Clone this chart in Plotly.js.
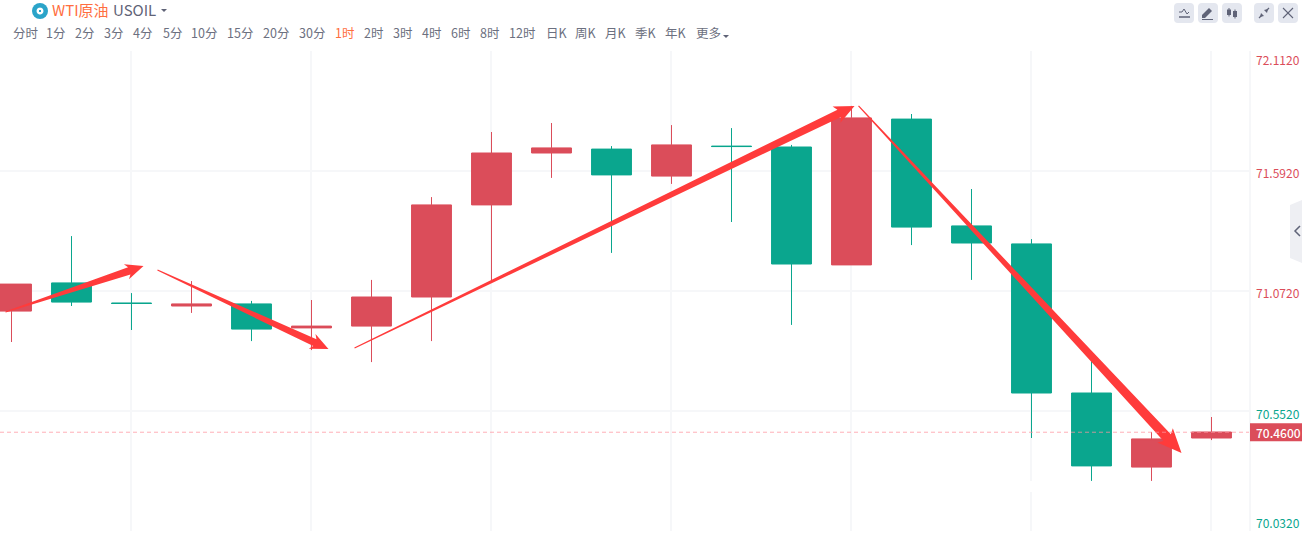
<!DOCTYPE html>
<html><head><meta charset="utf-8">
<script src="https://cdn.plot.ly/plotly-3.0.1.min.js"></script>
<style>html,body{margin:0;padding:0;background:#fff;overflow:hidden}#c{width:1302px;height:552px}</style>
</head><body><div id="c"></div>
<script>
// ---- data ----
const candleIndex = [0,1,2,3,4,5,6,7,8,9,10,11,12,13,14,15,16,17,18,19,20];
const opens  = [70.985,71.107,71.020,71.007,71.016,70.912,70.920,71.046,71.445,71.670,71.687,71.570,71.700,71.696,71.185,71.817,71.354,71.276,70.630,70.309,70.435];
const highs  = [71.102,71.310,71.063,71.115,71.029,71.033,71.120,71.479,71.761,71.800,71.700,71.791,71.778,71.705,71.874,71.839,71.514,71.297,70.812,70.461,70.526];
const lows   = [70.851,71.007,70.903,70.977,70.855,70.816,70.764,70.855,71.111,71.562,71.237,71.536,71.371,70.925,71.185,71.271,71.120,70.435,70.249,70.249,70.426];
const closes = [71.102,71.024,71.018,71.016,70.907,70.920,71.046,71.445,71.670,71.692,71.575,71.705,71.698,71.189,71.822,71.349,71.280,70.630,70.314,70.431,70.461];
const priceTicks = [72.112,71.592,71.072,70.552,70.032];
const priceLabels = ['72.1120','71.5920','71.0720','70.5520','70.0320'];
const timeGrid = [2,5,8,11,14,17,20];
const lastPrice = 70.46;
const lastPriceLabel = '70.4600';
const arrowTailX = [-0.1,2.433,5.717,14.117];
const arrowTailY = [70.981,71.163,70.825,71.874];
const arrowTipX  = [2.2,5.283,14.05,19.5];
const arrowTipY  = [71.180,70.821,71.874,70.370];
const periods = ['分时','1分','2分','3分','4分','5分','10分','15分','20分','30分','1时','2时','3时','4时','6时','8时','12时','日K','周K','月K','季K','年K','更多'];
const activePeriod = '1时';
const titleCn = 'WTI原油';
const titleCode = 'USOIL';

// ---- layout constants ----
const RED='#db4d5a', GREEN='#0aa68e', ARROW='#ff3b3b', GRID='#f6f7f9', TXT='#6c7080';
const W=1302,H=552,L=0,R=1249,T=51,B=531;
const CJK='"Noto Sans CJK SC","Noto Sans",sans-serif';
const yMin=70.032,yMax=72.112;
const xMin=-11.5/60,xMax=(1249-11.5)/60;
const pxPerX=(R-L)/(xMax-xMin), pxPerY=(B-T)/(yMax-yMin);
const px=x=>(x-L)/(R-L), py=y=>(B-y)/(B-T);
const periodX=[13,46,75,104,133,163,191,227,263,299,335,364,393,422,451,480,509,546,575,605,635,665,696];
const labelColors=[RED,RED,RED,GREEN,GREEN];
const arrowShape=[[3.8,8,18],[3.8,8,18],[4,9,20],[5,10.5,24]];

function arrowPoly(i){
  const [sh,hh,hl]=arrowShape[i], t=0.6;
  const dx=(arrowTipX[i]-arrowTailX[i])*pxPerX, dy=(arrowTipY[i]-arrowTailY[i])*pxPerY;
  const len=Math.hypot(dx,dy), ux=dx/len, uy=dy/len, nx=-uy, ny=ux;
  const at=(a,b)=>[arrowTailX[i]+(ux*a+nx*b)/pxPerX, arrowTailY[i]+(uy*a+ny*b)/pxPerY];
  const pts=[at(0,t),at(len-hl+3,sh),at(len-hl,hh),at(len,0),at(len-hl,-hh),at(len-hl+3,-sh),at(0,-t),at(0,t)];
  return {type:'scatter',mode:'lines',x:pts.map(p=>p[0]),y:pts.map(p=>p[1]),fill:'toself',fillcolor:ARROW,
    line:{width:0,color:ARROW},hoverinfo:'skip',showlegend:false};
}

const traces=[{type:'candlestick',x:candleIndex,open:opens,high:highs,low:lows,close:closes,
  increasing:{line:{color:RED,width:1},fillcolor:RED},
  decreasing:{line:{color:GREEN,width:1},fillcolor:GREEN},
  whiskerwidth:0,hoverinfo:'skip',showlegend:false}];
arrowTipX.forEach((_,i)=>traces.push(arrowPoly(i)));

const shapes=[], annotations=[];
function rr(x0,y0,x1,y1,fill){const r=4;
  const P=(x,y)=>px(x)+','+py(y);
  shapes.push({type:'path',xref:'paper',yref:'paper',fillcolor:fill,line:{width:0},layer:'above',
   path:`M${P(x0+r,y0)} L${P(x1-r,y0)} Q${P(x1,y0)} ${P(x1,y0+r)} L${P(x1,y1-r)} Q${P(x1,y1)} ${P(x1-r,y1)} L${P(x0+r,y1)} Q${P(x0,y1)} ${P(x0,y1-r)} L${P(x0,y0+r)} Q${P(x0,y0)} ${P(x0+r,y0)} Z`});}
function poly(pts,opt){const s=pts.map((p,i)=>(i?'L':'M')+px(p[0])+','+py(p[1])).join(' ')+(opt.fill?' Z':'');
  shapes.push({type:'path',xref:'paper',yref:'paper',layer:'above',fillcolor:opt.fill||'rgba(0,0,0,0)',
    line:{width:opt.w||0,color:opt.c||'rgba(0,0,0,0)'},path:s});}
function txt(x,y,t,size,color,anchor,weight){annotations.push({xref:'paper',yref:'paper',x:px(x),y:py(y),text:t,showarrow:false,
  xanchor:anchor||'left',yanchor:'middle',font:{family:CJK,size:size,color:color,weight:weight||400},borderpad:0,borderwidth:0});}

// vertical grid, two pixels wide, sitting just left of the wick centre
timeGrid.forEach(g=>shapes.push({type:'rect',xref:'x',yref:'paper',x0:g-1.5/pxPerX,x1:g+0.5/pxPerX,y0:0,y1:1,fillcolor:GRID,line:{width:0},layer:'below'}));

// last price line + tag
shapes.push({type:'line',xref:'paper',yref:'y',x0:0,x1:1,y0:lastPrice,y1:lastPrice,layer:'above',line:{color:'rgba(255,150,160,0.75)',width:1,dash:'4px 3px'}});
const lastPy=B-(lastPrice-yMin)*pxPerY;
shapes.push({type:'rect',xref:'paper',yref:'paper',x0:px(1250),x1:px(1302),y0:py(lastPy-9),y1:py(lastPy+9),fillcolor:RED,line:{width:0},layer:'above'});
txt(1256,lastPy,lastPriceLabel,12,'#ffffff','left',500);

// axis labels: nudged off their grid lines as in the reference
const labelShift=[8,1,1,2,-9];
priceTicks.forEach((v,i)=>{
  annotations.push({xref:'paper',yref:'y',x:px(1256),y:v,yshift:-labelShift[i],text:priceLabels[i],showarrow:false,xanchor:'left',yanchor:'middle',
    font:{family:CJK,size:12,color:labelColors[i]},borderpad:0,borderwidth:0});
});

// gap in grid line at 1031
shapes.push({type:'rect',xref:'paper',yref:'paper',x0:px(1028),x1:px(1035),y0:py(492),y1:py(481),fillcolor:'#fff',line:{width:0},layer:'below'});

// header
shapes.push({type:'circle',xref:'paper',yref:'paper',x0:px(32),x1:px(48),y0:py(19),y1:py(3),fillcolor:'#2ba4c9',line:{width:0},layer:'above'});
rr(36.5,7.5,43.5,14.5,'#ffffff');
shapes.push({type:'rect',xref:'paper',yref:'paper',x0:px(39),x1:px(41),y0:py(12),y1:py(10),fillcolor:'#2ba4c9',line:{width:0},layer:'above'});
txt(52,9,titleCn,15,'#ff6e40');
txt(113,9,titleCode,15,'#5f6377');
poly([[161,9],[167,9],[164,12]],{fill:'#5f6377'});
periods.forEach((p,i)=>txt(periodX[i],33,p,12.5,p===activePeriod?'#ff6e40':TXT));
poly([[723,35],[729,35],[726,38]],{fill:'#5f6377'});

// toolbar buttons
[1174,1198,1222,1254,1278].forEach(x=>rr(x,3,x+20,23,'#e4e7ef'));
const IC='#5f6377';
poly([[1179,12],[1182,12],[1184,9],[1187,14],[1189,12]],{c:IC,w:1});
poly([[1179,17],[1190,17]],{c:IC,w:1.5});
poly([[1202,15],[1209,8],[1212,11],[1205,18],[1202,18]],{fill:IC});
poly([[1202,19.5],[1213,19.5]],{c:IC,w:1});
[[1229,9.5,15],[1235,11,17]].forEach(a=>{
  poly([[a[0],a[1]-1.5],[a[0],a[2]+1.5]],{c:IC,w:1});
  poly([[a[0]-2,a[1]],[a[0]+2,a[1]],[a[0]+2,a[2]],[a[0]-2,a[2]]],{fill:IC});
});
poly([[1259,18],[1262,15]],{c:IC,w:1.2});poly([[1261,13],[1264,16],[1260,17]],{fill:IC});
poly([[1269,8],[1266,11]],{c:IC,w:1.2});poly([[1267,13],[1264,10],[1268,9]],{fill:IC});
poly([[1283,8],[1293,18]],{c:IC,w:1.1});poly([[1293,8],[1283,18]],{c:IC,w:1.1});

// side tab
poly([[1290,205],[1302,200],[1302,263],[1290,258]],{fill:'#eeeff3'});
poly([[1300,226],[1295,231],[1300,236]],{c:'#5f6377',w:1.5});

const layout={width:W,height:H,margin:{l:L,r:W-R,t:T,b:H-B,pad:0},paper_bgcolor:'#fff',plot_bgcolor:'#fff',showlegend:false,
  boxgap:0.05,
  xaxis:{type:'linear',range:[xMin,xMax],tickvals:timeGrid,showticklabels:false,ticks:'',showgrid:false,zeroline:false,
         showline:false,rangeslider:{visible:false},fixedrange:true},
  yaxis:{type:'linear',range:[yMin,yMax],tickvals:priceTicks,showticklabels:false,ticks:'',showgrid:true,gridcolor:GRID,gridwidth:2,zeroline:false,
         side:'right',showline:true,linecolor:GRID,linewidth:2,fixedrange:true},
  shapes:shapes,annotations:annotations};
Plotly.newPlot('c',traces,layout,{displayModeBar:false,staticPlot:true});
</script></body></html>
